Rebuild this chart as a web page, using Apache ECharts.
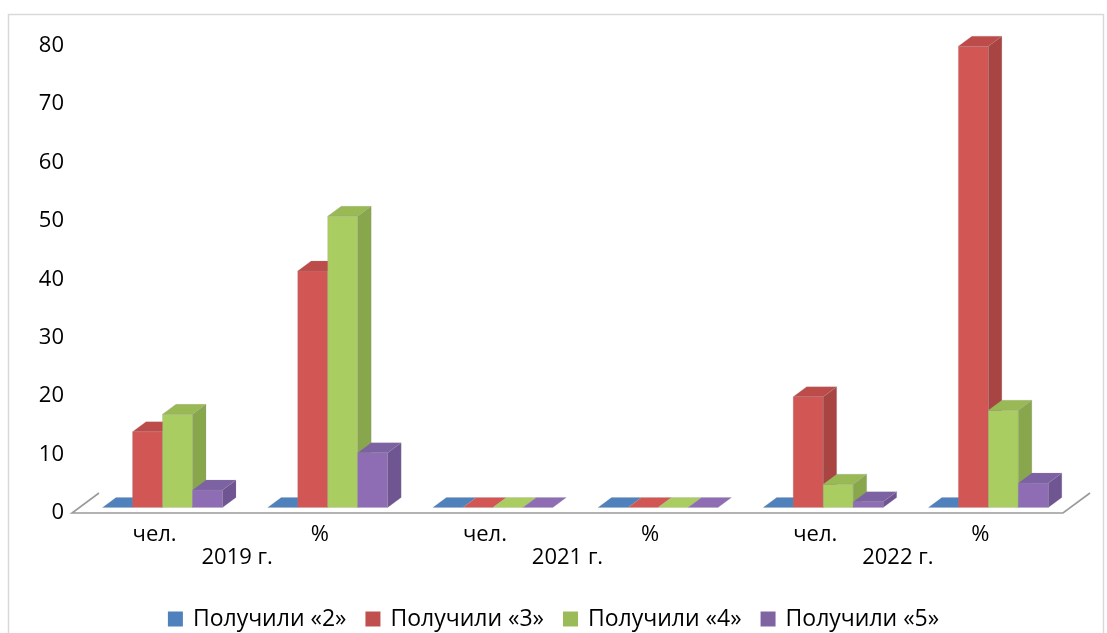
<!DOCTYPE html>
<html>
<head>
<meta charset="utf-8">
<script src="https://cdn.jsdelivr.net/npm/echarts@6/dist/echarts.min.js"></script>
<style>html,body{margin:0;padding:0;background:#fff;}#c{width:1107px;height:633px;}</style>
</head>
<body>
<div id="c"></div>
<script>
const categories = ['чел.', '%', 'чел.', '%', 'чел.', '%'];
const years = ['2019 г.', '2021 г.', '2022 г.'];
const seriesNames = ['Получили «2»', 'Получили «3»', 'Получили «4»', 'Получили «5»'];
const grade2 = [0, 0, 0, 0, 0, 0];
const grade3 = [13, 40.6, 0, 0, 19, 79.2];
const grade4 = [16, 50, 0, 0, 4, 16.7];
const grade5 = [3, 9.4, 0, 0, 1, 4.2];
const yMin = 0, yMax = 80, yStep = 10;

const allValues = [grade2, grade3, grade4, grade5];
const legendColors = ['#4f81bd', '#c0504d', '#9bbb59', '#8064a2'];
const frontColors = ['#4f81bd', '#d25654', '#a9cd60', '#8e6db5'];
const sideColors = ['#3f6aa0', '#a84442', '#88a64b', '#6f5591'];
const topColors = ['#4a78b0', '#bd4b49', '#98b954', '#7c61a3'];

const FONT = '"Open Sans", "Noto Sans", sans-serif';
const gridLeft = 72, gridRight = 1107 - 1063;
const barBase = 507.5, floorY = 513;
const DX = 13.5, DY = -10;

function makeRender(k) {
  return function (params, api) {
    const ci = api.value(0), v = api.value(1);
    const base = api.coord([ci, 0]);
    const top = api.coord([ci, v]);
    const band = api.size([1, 0])[0];
    const barW = band * 0.1816;
    const x0 = base[0] + band * 0.048 + (k - 2) * barW;
    const x1 = x0 + barW;
    const y0 = base[1], y1 = top[1];
    const children = [];
    const stroke = {stroke: 'rgba(150,150,150,0.35)', lineWidth: 0.6};
    if (y0 - y1 > 0.5) {
      children.push({type: 'polygon', shape: {points: [[x0, y0], [x1, y0], [x1, y1], [x0, y1]]},
        style: Object.assign({fill: frontColors[k]}, stroke)});
      children.push({type: 'polygon', shape: {points: [[x1, y0], [x1 + DX, y0 + DY], [x1 + DX, y1 + DY], [x1, y1]]},
        style: Object.assign({fill: sideColors[k]}, stroke)});
    }
    children.push({type: 'polygon', shape: {points: [[x0, y1], [x1, y1], [x1 + DX, y1 + DY], [x0 + DX, y1 + DY]]},
      style: Object.assign({fill: (y0 - y1 > 0.5) ? topColors[k] : frontColors[k]}, stroke)});
    return {type: 'group', children: children};
  };
}

const chart = echarts.init(document.getElementById('c'), null, {renderer: 'canvas'});
const option = {
  animation: false,
  backgroundColor: '#fff',
  textStyle: {fontFamily: FONT},
  legend: {
    data: seriesNames.map((n, i) => ({name: n, icon: 'rect', itemStyle: {color: legendColors[i]}})),
    top: 601,
    left: 'center',
    itemWidth: 15, itemHeight: 15, itemGap: 19,
    textStyle: {fontFamily: FONT, fontSize: 23, lineHeight: 26, color: '#000', padding: [0, 0, 0, 5]}
  },
  grid: [
    {left: gridLeft, right: gridRight, top: barBase - (yMax - yMin) * 5.825, bottom: 633 - barBase},
    {left: gridLeft, right: gridRight, top: floorY - (yMax - yMin) * 5.84, bottom: 633 - floorY}
  ],
  xAxis: [
    {type: 'category', gridIndex: 0, data: categories, axisLine: {show: false}, axisTick: {show: false},
      axisLabel: {fontFamily: FONT, fontSize: 22, color: '#000', margin: 16, interval: 0}},
    {type: 'category', gridIndex: 0, data: years, position: 'bottom', offset: 23, axisLine: {show: false}, axisTick: {show: false},
      axisLabel: {fontFamily: FONT, fontSize: 22, color: '#000', margin: 16, interval: 0}},
    {type: 'category', gridIndex: 1, data: categories, show: false}
  ],
  yAxis: [
    {type: 'value', gridIndex: 0, min: yMin, max: yMax, interval: yStep, show: false, splitLine: {show: false}},
    {type: 'value', gridIndex: 1, min: yMin, max: yMax, interval: yStep, axisLine: {show: false}, axisTick: {show: false},
      splitLine: {show: false}, axisLabel: {fontFamily: FONT, fontSize: 22, color: '#000', margin: 8}}
  ],
  graphic: [
    {type: 'rect', shape: {x: 8.5, y: 14.5, width: 1095, height: 640}, style: {fill: 'none', stroke: '#d9d9d9', lineWidth: 1.5}, silent: true},
    {type: 'polyline', shape: {points: [[gridLeft + 27, floorY - 20], [gridLeft, floorY], [1107 - gridRight, floorY], [1107 - gridRight + 27, floorY - 20]]},
      style: {fill: 'none', stroke: '#9a9a9a', lineWidth: 1.6}, silent: true, z: 0}
  ],
  series: allValues.map((vals, k) => ({
    name: seriesNames[k],
    type: 'custom',
    xAxisIndex: 0, yAxisIndex: 0,
    itemStyle: {color: legendColors[k]},
    renderItem: makeRender(k),
    encode: {x: 0, y: 1},
    data: vals.map((v, i) => [i, v]),
    z: 2
  }))
};
chart.setOption(option);
</script>
</body>
</html>
